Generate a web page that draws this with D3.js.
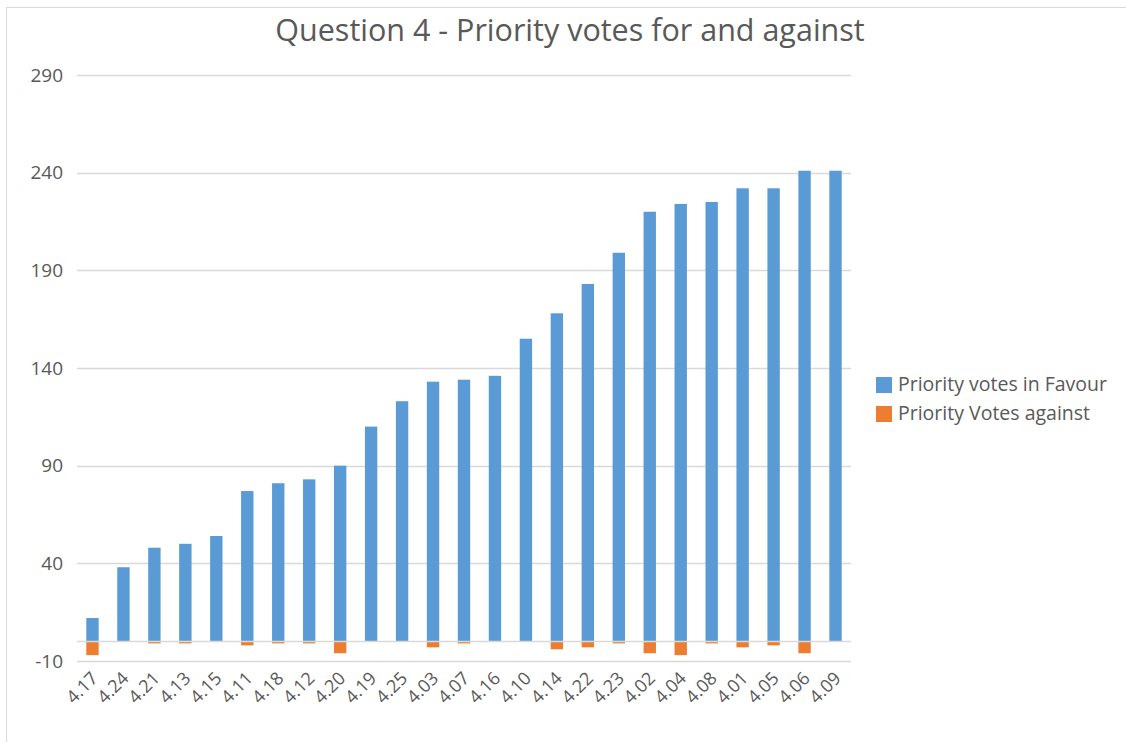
<!DOCTYPE html>
<html>
<head>
<meta charset="utf-8">
<script src="https://cdn.jsdelivr.net/npm/d3@7"></script>
<style>
  body { margin: 0; background: #fff; }
  text { font-family: "Open Sans", "Liberation Sans", sans-serif; fill: #595959; }
</style>
</head>
<body>
<div id="chart"></div>
<script>
const categories = ["4.17", "4.24", "4.21", "4.13", "4.15", "4.11", "4.18", "4.12", "4.20", "4.19", "4.25", "4.03", "4.07",
  "4.16", "4.10", "4.14", "4.22", "4.23", "4.02", "4.04", "4.08", "4.01", "4.05", "4.06", "4.09"];
const votesFavour = [12, 38, 48, 50, 54, 77, 81, 83, 90, 110, 123, 133, 134, 136, 155, 168, 183, 199, 220, 224, 225, 232, 232, 241, 241];
const votesAgainst = [-7, 0, -1, -1, 0, -2, -1, -1, -6, 0, 0, -3, -1, 0, 0, -4, -3, -1, -6, -7, -1, -3, -2, -6, 0];
const yTicks = [-10, 40, 90, 140, 190, 240, 290];
const seriesNames = ["Priority votes in Favour", "Priority Votes against"];
const colors = ["#5B9BD5", "#ED7D31"];

const width = 1126, height = 742;
const svg = d3.select("#chart").append("svg")
  .attr("width", width)
  .attr("height", height);

// chart area border
svg.append("rect")
  .attr("x", 6.5).attr("y", 7.5)
  .attr("width", 1200).attr("height", 800)
  .attr("fill", "none")
  .attr("stroke", "#d9d9d9");

svg.append("text")
  .attr("x", 570).attr("y", 41)
  .attr("text-anchor", "middle")
  .style("font-size", "30.5px")
  .text("Question 4 - Priority votes for and against");

let x = d3.scaleBand()
  .domain(categories)
  .range([77, 851])
  .paddingInner(0.6)
  .paddingOuter(0.3);

let y = d3.scaleLinear()
  .domain([-10, 290])
  .range([661, 75]);

// gridlines
svg.append("g")
  .selectAll("line")
  .data(yTicks)
  .enter()
  .append("line")
  .attr("x1", 77).attr("x2", 851)
  .attr("y1", d => Math.round(y(d)) + 0.5)
  .attr("y2", d => Math.round(y(d)) + 0.5)
  .attr("stroke", "#d9d9d9")
  .attr("stroke-width", 1.5);

svg.append("g")
  .attr("transform", "translate(77,0)")
  .call(d3.axisLeft(y).tickValues(yTicks).tickFormat(d => String(d)).tickSize(0).tickPadding(14))
  .call(g => g.select(".domain").remove())
  .selectAll("text")
  .style("font-size", "19px")
  .attr("fill", "#595959");

const rows = categories.map((c, i) => ({ cat: c, favour: votesFavour[i], against: votesAgainst[i] }));
const stacked = d3.stack()
  .keys(["favour", "against"])
  .offset(d3.stackOffsetDiverging)(rows);

svg.append("g")
  .selectAll("g")
  .data(stacked)
  .enter()
  .append("g")
  .attr("fill", (d, i) => colors[i])
  .selectAll("rect")
  .data(d => d)
  .enter()
  .append("rect")
  .attr("x", d => x(d.data.cat))
  .attr("y", d => y(Math.max(d[0], d[1])))
  .attr("width", x.bandwidth())
  .attr("height", d => Math.abs(y(d[0]) - y(d[1])));

// horizontal axis line at zero
svg.append("line")
  .attr("x1", 77).attr("x2", 851)
  .attr("y1", Math.round(y(0)) + 0.5).attr("y2", Math.round(y(0)) + 0.5)
  .attr("stroke", "#d9d9d9")
  .attr("stroke-width", 1.5);

// category labels
svg.append("g")
  .attr("transform", "translate(0," + y(-10) + ")")
  .call(d3.axisBottom(x).tickSize(0).tickPadding(0))
  .call(g => g.select(".domain").remove())
  .selectAll("text")
  .style("font-size", "18px")
  .attr("fill", "#595959")
  .attr("text-anchor", "end")
  .attr("dy", "0.35em")
  .attr("transform", "translate(2,14) rotate(-45)");

// legend
const legend = svg.append("g")
  .selectAll("g")
  .data(seriesNames)
  .enter()
  .append("g")
  .attr("transform", (d, i) => "translate(876," + (377 + i * 29) + ")");

legend.append("rect")
  .attr("width", 16).attr("height", 16)
  .attr("fill", (d, i) => colors[i]);

legend.append("text")
  .attr("x", 22).attr("y", 14)
  .style("font-size", "19.5px")
  .text(d => d);
</script>
</body>
</html>
